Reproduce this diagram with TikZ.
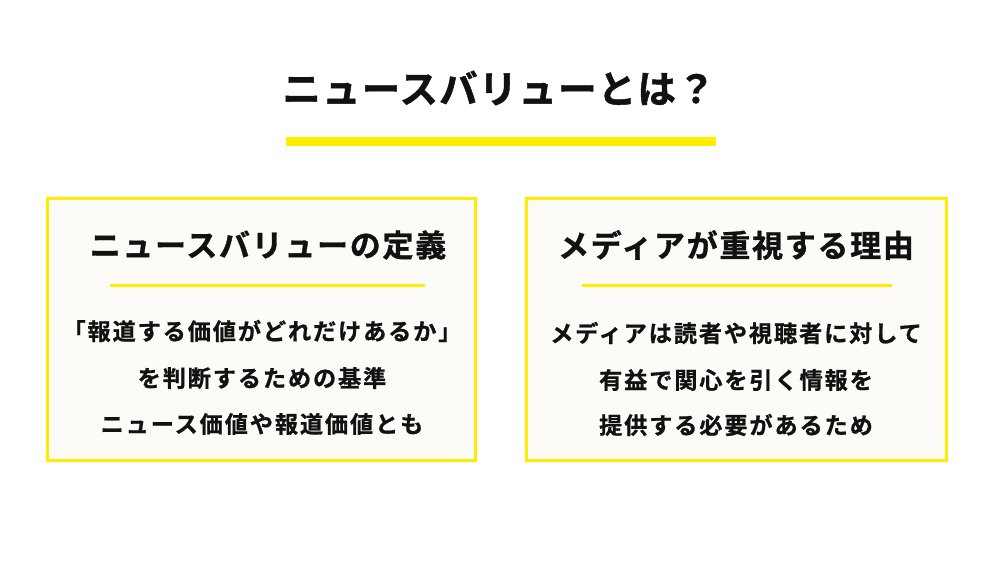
\documentclass[tikz,border=0pt]{standalone}
\usepackage{fontspec}
\newfontfamily\jptitle[LetterSpace=3,FakeBold=1.2]{Noto Sans CJK JP Bold}
\newfontfamily\jphead[LetterSpace=5.5,FakeBold=1]{Noto Sans CJK JP Bold}
\newfontfamily\jpbody[LetterSpace=8,FakeBold=0.8]{Noto Sans CJK JP Bold}
\definecolor{yel}{HTML}{FFEC00}
\definecolor{cream}{HTML}{FDFBF8}
\definecolor{ink}{HTML}{111111}
\tikzset{
  panel/.style={draw=yel, line width=3pt, fill=cream},
  rule/.style={draw=yel, line width=3pt},
  titletext/.style={font=\jptitle\fontsize{38.5}{42}\selectfont, text=ink, inner sep=0pt},
  headtext/.style={font=\jphead\fontsize{31}{34}\selectfont, text=ink, inner sep=0pt},
  bodytext/.style={font=\jpbody\fontsize{23.2}{26}\selectfont, text=ink, inner sep=0pt},
}
\begin{document}
\begin{tikzpicture}[x=1pt,y=-1pt]
\useasboundingbox[fill=white] (0,0) rectangle (1001,563);
\node[titletext] (title) at (499,88) {ニュースバリューとは？};
\fill[yel] (286,137) rectangle (716,146);
% left panel
\draw[panel] (47.5,198.5) rectangle (475.5,460.5);
\node[headtext] (lh) at (268,245) {ニュースバリューの定義};
\coordinate (lr1) at (110,285); \coordinate (lr2) at (425,285);
\draw[rule] (lr1) -- (lr2);
\node[bodytext] (lb1) at (262,331) {「報道する価値がどれだけあるか」};
\node[bodytext] (lb2) at (262,378) {を判断するための基準};
\node[bodytext] (lb3) at (262,424) {ニュース価値や報道価値とも};
% right panel
\draw[panel] (526.5,198.5) rectangle (946.5,460.5);
\node[headtext] (rh) at (736,245) {メディアが重視する理由};
\coordinate (rr1) at (582,285); \coordinate (rr2) at (892,285);
\draw[rule] (rr1) -- (rr2);
\node[bodytext] (rb1) at (736,333) {メディアは読者や視聴者に対して};
\node[bodytext] (rb2) at (736,380) {有益で関心を引く情報を};
\node[bodytext] (rb3) at (736,425) {提供する必要があるため};
\end{tikzpicture}
\end{document}
